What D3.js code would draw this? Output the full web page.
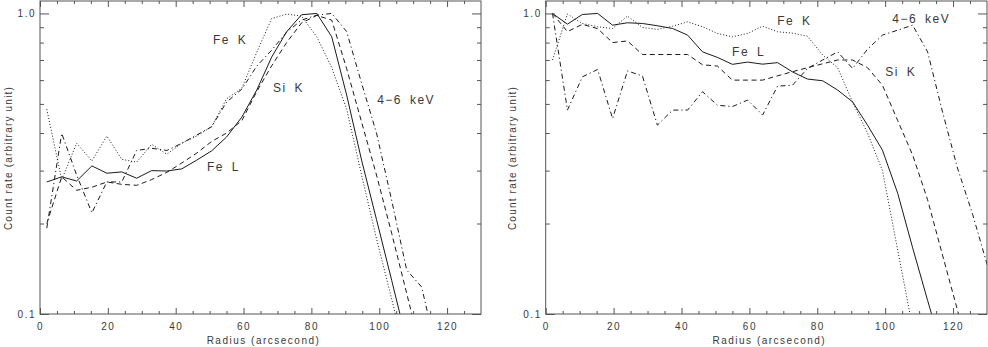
<!DOCTYPE html>
<html>
<head>
<meta charset="utf-8">
<script src="https://cdn.jsdelivr.net/npm/d3@7"></script>
<style>
  body { margin: 0; background: #fff; }
  svg { display: block; }
  text { font-family: "Liberation Sans", Arial, sans-serif; fill: #3a3a3a; }
</style>
</head>
<body>
<div id="chart"></div>
<script>
const width = 988, height = 347;

// radial bins (arcsec)
const radius = [2.0, 6.4, 10.8, 15.3, 19.7, 24.1, 28.5, 32.9, 37.4, 41.8, 46.2, 50.6, 55.0, 59.5, 63.9,
  68.3, 72.7, 77.1, 81.6, 86.0, 90.4, 94.8, 99.2, 103.7, 108.1, 112.5, 116.9, 121.3, 125.8, 130.2];

// left panel profiles
const leftFeL = [0.275, 0.286, 0.277, 0.311, 0.294, 0.297, 0.283, 0.300, 0.299, 0.304, 0.325, 0.349, 0.388, 0.452,
  0.556, 0.716, 0.869, 0.99, 1.0, 0.836, 0.535, 0.325, 0.206, 0.129, 0.081];
const leftFeK = [0.48, 0.28, 0.37, 0.323, 0.391, 0.327, 0.32, 0.367, 0.34, 0.37, 0.391, 0.42, 0.52, 0.564,
  0.743, 0.962, 0.995, 0.98, 0.836, 0.66, 0.48, 0.29, 0.178, 0.112, 0.07];
const leftSiK = [0.2, 0.286, 0.258, 0.264, 0.275, 0.27, 0.268, 0.28, 0.296, 0.318, 0.343, 0.375, 0.40, 0.44,
  0.55, 0.67, 0.80, 0.93, 0.985, 0.95, 0.655, 0.435, 0.29, 0.185, 0.117, 0.074];
const leftHard = [0.193, 0.399, 0.29, 0.217, 0.275, 0.275, 0.35, 0.356, 0.35, 0.37, 0.394, 0.42, 0.507, 0.56,
  0.668, 0.755, 0.866, 0.95, 0.987, 1.0, 0.87, 0.586, 0.40, 0.238, 0.14, 0.123, 0.075];

// right panel profiles
const rightFeL = [1.0, 0.921, 0.992, 1.0, 0.914, 0.931, 0.926, 0.91, 0.891, 0.847, 0.745, 0.714, 0.677, 0.689,
  0.678, 0.686, 0.639, 0.605, 0.597, 0.556, 0.508, 0.425, 0.351, 0.252, 0.166, 0.111, 0.075];
const rightFeK = [0.70, 0.995, 0.926, 0.903, 0.891, 0.98, 0.898, 0.885, 0.907, 0.938, 0.903, 0.858, 0.836, 0.858,
  0.907, 0.869, 0.86, 0.84, 0.727, 0.66, 0.507, 0.40, 0.30, 0.163, 0.09];
const rightSiK = [1.0, 0.87, 0.92, 0.89, 0.80, 0.81, 0.73, 0.73, 0.73, 0.73, 0.675, 0.668, 0.60, 0.60,
  0.60, 0.62, 0.64, 0.66, 0.68, 0.70, 0.70, 0.66, 0.577, 0.44, 0.338, 0.24, 0.157, 0.103, 0.067];
const rightHard = [1.0, 0.477, 0.615, 0.651, 0.447, 0.644, 0.619, 0.425, 0.477, 0.477, 0.549, 0.495, 0.49, 0.515,
  0.459, 0.573, 0.577, 0.656, 0.70, 0.745, 0.656, 0.76, 0.847, 0.88, 0.914, 0.745, 0.47, 0.306, 0.214, 0.144];

// ticks and texts
const xMajor = [0, 20, 40, 60, 80, 100, 120];
const xMinor = [5, 10, 15, 25, 30, 35, 45, 50, 55, 65, 70, 75, 85, 90, 95, 105, 110, 115, 125];
const yMajor = [0.1, 1.0];
const yMinor = [0.2, 0.3, 0.4, 0.5, 0.6, 0.7, 0.8, 0.9];
const xTitle = "Radius (arcsecond)";
const yTitle = "Count rate (arbitrary unit)";

// label anchors in data units (radius, count rate)
const leftLabels = [
  {text: "Fe K", r: 51, v: 0.82}, {text: "Si K", r: 68.7, v: 0.565},
  {text: "4−6 keV", r: 99.4, v: 0.515}, {text: "Fe L", r: 49.2, v: 0.308}
];
const rightLabels = [
  {text: "Fe K", r: 68.2, v: 0.945}, {text: "4−6 keV", r: 102.1, v: 0.963},
  {text: "Si K", r: 100, v: 0.638}, {text: "Fe L", r: 54.9, v: 0.744}
];

const dashes = {FeL: null, FeK: "1 2", SiK: "5 3.5", hard: "5 3 1.2 3"};

const svg = d3.select("#chart").append("svg")
  .attr("width", width)
  .attr("height", height);

function drawPanel(id, x0, x1, series, labels, titleY) {
  const top = 1, bottom = 314;
  const x = d3.scaleLinear().domain([0, 130]).range([x0, x1]);
  const y = d3.scaleLog().domain([0.1, 1.1]).range([bottom, top]);

  const g = svg.append("g");

  g.append("clipPath").attr("id", "clip" + id)
    .append("rect")
    .attr("x", x0).attr("y", top)
    .attr("width", x1 - x0).attr("height", bottom - top);

  const line = d3.line()
    .x((d, i) => x(radius[i]))
    .y(d => y(d));

  const lines = g.append("g").attr("clip-path", `url(#clip${id})`);
  series.forEach(s => {
    lines.append("path")
      .datum(s.values)
      .attr("d", line)
      .attr("fill", "none")
      .attr("stroke", "#1a1a1a")
      .attr("stroke-width", 1)
      .attr("stroke-dasharray", dashes[s.key]);
  });

  // axes, ticks pointing inward
  const axisStyle = sel => {
    sel.select(".domain").remove();
    sel.selectAll("line").attr("stroke", "#555");
    sel.selectAll("text").attr("fill", "#3a3a3a")
      .style("font-size", "10px").style("letter-spacing", "1.5px");
  };

  g.append("g").attr("transform", `translate(0,${bottom})`)
    .call(d3.axisBottom(x).tickValues(xMajor).tickSize(-6).tickPadding(9).tickFormat(d3.format("d")))
    .call(axisStyle);
  g.append("g").attr("transform", `translate(0,${bottom})`)
    .call(d3.axisBottom(x).tickValues(xMinor).tickSize(-3).tickFormat(""))
    .call(axisStyle);
  g.append("g").attr("transform", `translate(0,${top})`)
    .call(d3.axisTop(x).tickValues(xMajor).tickSize(-6).tickFormat(""))
    .call(axisStyle);
  g.append("g").attr("transform", `translate(0,${top})`)
    .call(d3.axisTop(x).tickValues(xMinor).tickSize(-3).tickFormat(""))
    .call(axisStyle);

  g.append("g").attr("transform", `translate(${x0},0)`)
    .call(d3.axisLeft(y).tickValues(yMajor).tickSize(-9).tickPadding(4).tickFormat(d3.format(".1f")))
    .call(axisStyle);
  g.append("g").attr("transform", `translate(${x0},0)`)
    .call(d3.axisLeft(y).tickValues(yMinor).tickSize(-4).tickFormat(""))
    .call(axisStyle);
  g.append("g").attr("transform", `translate(${x1},0)`)
    .call(d3.axisRight(y).tickValues(yMajor).tickSize(-9).tickFormat(""))
    .call(axisStyle);
  g.append("g").attr("transform", `translate(${x1},0)`)
    .call(d3.axisRight(y).tickValues(yMinor).tickSize(-4).tickFormat(""))
    .call(axisStyle);

  // frame
  g.append("rect")
    .attr("x", x0).attr("y", top)
    .attr("width", x1 - x0).attr("height", bottom - top)
    .attr("fill", "none")
    .attr("stroke", "#555")
    .attr("stroke-width", 1);

  // titles
  g.append("text")
    .attr("x", (x0 + x1) / 2 + 3)
    .attr("y", 344)
    .attr("text-anchor", "middle")
    .style("font-size", "10px")
    .style("letter-spacing", "1.5px")
    .text(xTitle);

  g.append("text")
    .attr("transform", `translate(${titleY},158) rotate(-90)`)
    .attr("text-anchor", "middle")
    .attr("dy", "0.35em")
    .style("font-size", "10px")
    .style("letter-spacing", "1.2px")
    .text(yTitle);

  // curve labels
  g.selectAll(".lbl")
    .data(labels)
    .enter()
    .append("text")
    .attr("x", d => x(d.r))
    .attr("y", d => y(d.v))
    .attr("dy", "0.35em")
    .style("font-size", "12px")
    .style("letter-spacing", "1.5px")
    .style("word-spacing", "3px")
    .text(d => d.text);
}

drawPanel("L", 40, 481, [
  {key: "FeL", values: leftFeL},
  {key: "FeK", values: leftFeK},
  {key: "SiK", values: leftSiK},
  {key: "hard", values: leftHard}
], leftLabels, 8);

drawPanel("R", 545.7, 987, [
  {key: "FeL", values: rightFeL},
  {key: "FeK", values: rightFeK},
  {key: "SiK", values: rightSiK},
  {key: "hard", values: rightHard}
], rightLabels, 512.5);
</script>
</body>
</html>
